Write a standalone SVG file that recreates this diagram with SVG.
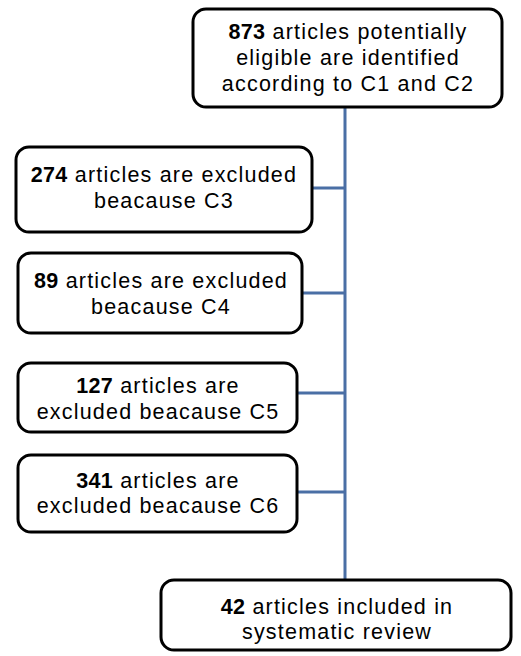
<svg xmlns="http://www.w3.org/2000/svg" width="521" height="656" viewBox="0 0 521 656">
<style>
.box{fill:#fff;stroke:#000;stroke-width:3}
.t{font-family:"Liberation Sans",Arial,sans-serif;font-size:21.5px;letter-spacing:1.2px;fill:#000;text-anchor:middle}
.b{font-weight:bold;letter-spacing:0.3px}
.c{stroke:#4a6fa5;stroke-width:3;fill:none}
</style>
<rect width="521" height="656" fill="#fff"/>
<g id="connectors">
<path class="c" d="M345 107V580"/>
<path class="c" d="M312 188H345"/>
<path class="c" d="M302 293H345"/>
<path class="c" d="M297 393H345"/>
<path class="c" d="M297 492H345"/>
</g>
<g id="n1"><rect class="box" x="193" y="9" width="309" height="98" rx="13"/>
<text class="t" x="348" y="39"><tspan class="b">873</tspan> articles potentially</text>
<text class="t" x="348" y="65">eligible are identified</text>
<text class="t" x="348" y="91">according to C1 and C2</text></g>
<g id="n2"><rect class="box" x="16" y="147" width="296" height="85" rx="13"/>
<text class="t" x="164" y="182"><tspan class="b">274</tspan> articles are excluded</text>
<text class="t" x="164" y="208">beacause C3</text></g>
<g id="n3"><rect class="box" x="18" y="253" width="284" height="80" rx="13"/>
<text class="t" x="161" y="288"><tspan class="b">89</tspan> articles are excluded</text>
<text class="t" x="161" y="314">beacause C4</text></g>
<g id="n4"><rect class="box" x="18" y="363" width="279" height="69" rx="13"/>
<text class="t" x="158" y="393"><tspan class="b">127</tspan> articles are</text>
<text class="t" x="158" y="419">excluded beacause C5</text></g>
<g id="n5"><rect class="box" x="18" y="455" width="279" height="77" rx="13"/>
<text class="t" x="158" y="488"><tspan class="b">341</tspan> articles are</text>
<text class="t" x="158" y="513">excluded beacause C6</text></g>
<g id="n6"><rect class="box" x="161" y="580" width="350" height="70" rx="13"/>
<text class="t" x="337" y="614"><tspan class="b">42</tspan> articles included in</text>
<text class="t" x="337" y="639">systematic review</text></g>
</svg>
